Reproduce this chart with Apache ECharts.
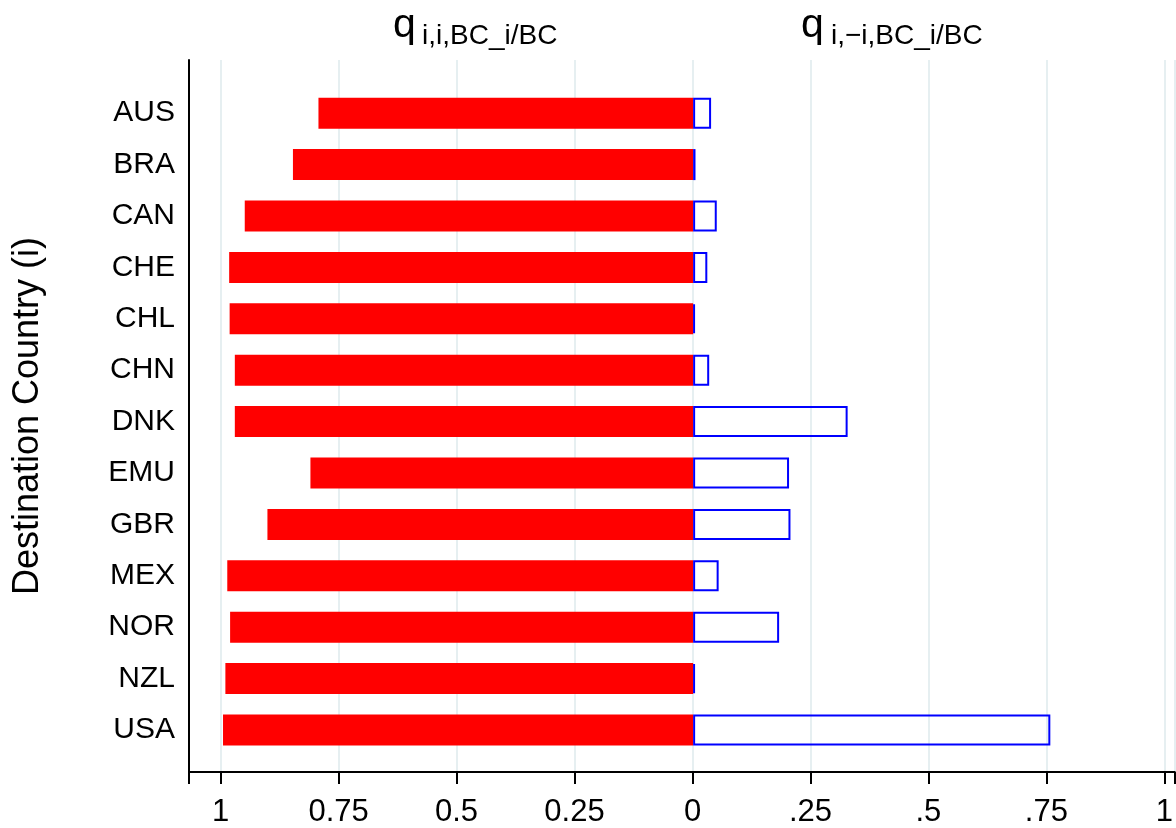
<!DOCTYPE html>
<html>
<head>
<meta charset="utf-8">
<script src="https://cdn.jsdelivr.net/npm/echarts@6/dist/echarts.min.js"></script>
<style>
    html, body { margin: 0; padding: 0; background: #fff; }
    #chart { width: 1176px; height: 828px; }
</style>
</head>
<body>
<div id="chart"></div>
<script>
// destination countries, top to bottom
const countries = ['AUS', 'BRA', 'CAN', 'CHE', 'CHL', 'CHN', 'DNK', 'EMU', 'GBR', 'MEX', 'NOR', 'NZL', 'USA'];
// q_{i,i,BC_i/BC}  (drawn to the left)
const ownShare = [0.793, 0.847, 0.949, 0.982, 0.981, 0.970, 0.970, 0.810, 0.901, 0.986, 0.980, 0.990, 0.995];
// q_{i,-i,BC_i/BC} (drawn to the right)
const crossShare = [0.038, 0.005, 0.050, 0.030, 0.004, 0.034, 0.327, 0.203, 0.206, 0.054, 0.182, 0.004, 0.756];
// x axis ticks
const tickValues = [-1, -0.75, -0.5, -0.25, 0, 0.25, 0.5, 0.75, 1];
const tickLabels = ['1', '0.75', '0.5', '0.25', '0', '.25', '.5', '.75', '1'];

const FONT = '"Liberation Sans", Arial, Helvetica, sans-serif';
const X_MIN = -1.067, X_MAX = 1.022;

var chart = echarts.init(document.getElementById('chart'));

function tickLabel(v) {
    for (var i = 0; i < tickValues.length; i++) {
        if (Math.abs(tickValues[i] - v) < 1e-6) return tickLabels[i];
    }
    return '';
}

function titlePart(text, left, top, size) {
    return {
        text: text, left: left, top: top, padding: 0,
        textStyle: { fontFamily: FONT, fontSize: size, fontWeight: 'normal', color: '#000' }
    };
}

chart.setOption({
    animation: false,
    backgroundColor: '#fff',
    textStyle: { fontFamily: FONT },
    title: [
        titlePart('q', 393, 5, 41),
        titlePart('i,i,BC_i/BC', 422, 22, 28),
        titlePart('q', 801, 5, 41),
        titlePart('i,\u2212i,BC_i/BC', 831, 22, 28)
    ],
    grid: [
        // frame: axes, ticks, grid lines
        { left: 189, right: 0, top: 60, bottom: 45 },
        // bars
        { left: 189, right: 0, top: 87.5, bottom: 72.3 }
    ],
    xAxis: [
        {
            gridIndex: 0,
            type: 'value',
            min: X_MIN,
            max: X_MAX,
            minInterval: 0.25,
            maxInterval: 0.25,
            axisLine: { show: true, onZero: false, lineStyle: { color: '#000', width: 2 } },
            axisTick: { show: true, length: 12, lineStyle: { color: '#000', width: 2 } },
            axisLabel: {
                customValues: tickValues,
                margin: 25,
                fontSize: 31,
                color: '#000',
                fontFamily: FONT,
                formatter: tickLabel
            },
            splitLine: { show: true, lineStyle: { color: '#e6eff1', width: 2 } }
        },
        {
            gridIndex: 1,
            type: 'value',
            min: X_MIN,
            max: X_MAX,
            show: false
        }
    ],
    yAxis: [
        {
            gridIndex: 0,
            type: 'value',
            min: 0,
            max: 1,
            name: 'Destination Country (i)',
            nameLocation: 'middle',
            nameGap: 143,
            nameTextStyle: { fontSize: 36, color: '#000', fontFamily: FONT },
            axisLine: { show: true, onZero: false, lineStyle: { color: '#000', width: 2 } },
            axisTick: { show: false },
            axisLabel: { show: false },
            splitLine: { show: false }
        },
        {
            gridIndex: 1,
            type: 'category',
            inverse: true,
            data: countries,
            axisLine: { show: false },
            axisTick: { show: false },
            axisLabel: { margin: 14, fontSize: 30, color: '#000', fontFamily: FONT },
            splitLine: { show: false }
        }
    ],
    series: [
        {
            name: 'own',
            type: 'bar',
            xAxisIndex: 1,
            yAxisIndex: 1,
            barWidth: 31,
            barGap: '-100%',
            itemStyle: { color: '#ff0000' },
            data: ownShare.map(function (v) { return -v; })
        },
        {
            name: 'cross',
            type: 'bar',
            xAxisIndex: 1,
            yAxisIndex: 1,
            barWidth: 31,
            barGap: '-100%',
            itemStyle: { color: 'rgba(255,255,255,0)', borderColor: '#0000ff', borderWidth: 2 },
            data: crossShare
        }
    ]
});
</script>
</body>
</html>
